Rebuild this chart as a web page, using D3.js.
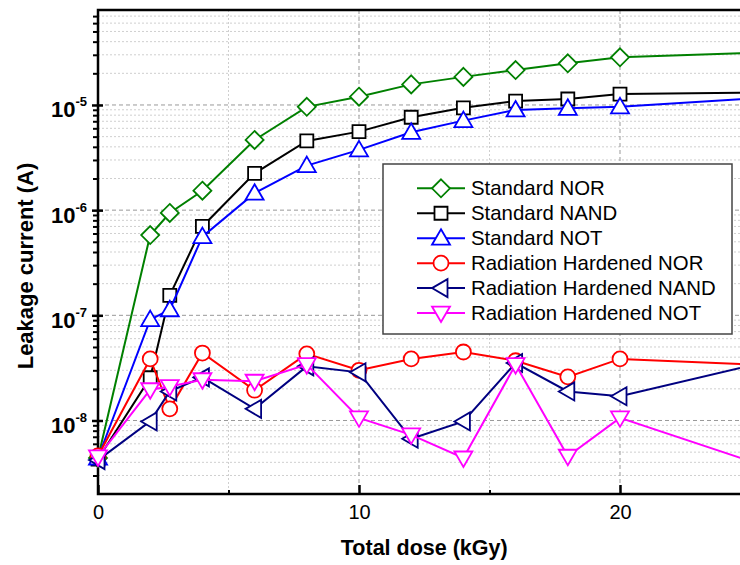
<!DOCTYPE html>
<html>
<head>
<meta charset="utf-8">
<script src="https://cdn.jsdelivr.net/npm/d3@7"></script>
<style>
  html, body { margin: 0; padding: 0; background: #fff; }
  svg { display: block; }
  text { font-family: Arial, "Liberation Sans", sans-serif; }
</style>
</head>
<body>
<svg id="chart" width="740" height="565"></svg>
<script>
// ---- Data ----
const doses = [0, 2, 2.75, 4, 6, 8, 10, 12, 14, 16, 18, 20, 25];
const stdNOR  = [4.4e-9, 5.8e-7, 9.4e-7, 1.53e-6, 4.65e-6, 9.6e-6, 1.2e-5, 1.57e-5, 1.85e-5, 2.15e-5, 2.49e-5, 2.84e-5, 3.12e-5];
const stdNAND = [4.3e-9, 2.55e-8, 1.55e-7, 7.0e-7, 2.24e-6, 4.55e-6, 5.58e-6, 7.64e-6, 9.4e-6, 1.09e-5, 1.14e-5, 1.27e-5, 1.31e-5];
const stdNOT  = [4.4e-9, 9.1e-8, 1.13e-7, 5.6e-7, 1.45e-6, 2.65e-6, 3.74e-6, 5.5e-6, 7.1e-6, 8.97e-6, 9.3e-6, 9.6e-6, 1.15e-5];
const rhNOR   = [4.6e-9, 3.85e-8, 1.29e-8, 4.38e-8, 1.94e-8, 4.3e-8, 3.0e-8, 3.85e-8, 4.48e-8, 3.7e-8, 2.6e-8, 3.85e-8, 3.42e-8];
const rhNAND  = [4.2e-9, 9.8e-9, 1.89e-8, 2.57e-8, 1.29e-8, 3.27e-8, 2.87e-8, 6.7e-9, 9.8e-9, 3.52e-8, 1.89e-8, 1.7e-8, 3.33e-8];
const rhNOT   = [4.5e-9, 1.96e-8, 2.1e-8, 2.44e-8, 2.36e-8, 3.4e-8, 1.06e-8, 7.3e-9, 4.4e-9, 3.4e-8, 4.57e-9, 1.06e-8, 4.1e-9];

const seriesNames = ["Standard NOR", "Standard NAND", "Standard NOT",
                     "Radiation Hardened NOR", "Radiation Hardened NAND", "Radiation Hardened NOT"];
const seriesValues = [stdNOR, stdNAND, stdNOT, rhNOR, rhNAND, rhNOT];
const seriesColors = ["#008000", "#000000", "#0000ff", "#ff0000", "#000080", "#ff00ff"];
const seriesSymbols = ["diamond", "square", "triUp", "circle", "triLeft", "triDown"];

const xMajorTicks = [0, 10, 20];
const xMinorTicks = [5, 15];
const yMajorTicks = [1e-8, 1e-7, 1e-6, 1e-5];
const yTickExponents = ["-8", "-7", "-6", "-5"];
const xTitle = "Total dose (kGy)";
const yTitle = "Leakage current (A)";

// ---- Layout ----
const L = 98, T = 10, R = 750.5, B = 494;
const svg = d3.select("#chart");

const x = d3.scaleLinear().domain([0, 25]).range([L, R]);
const y = d3.scaleLog().domain([2e-9, 8e-5]).range([B, T]);

// minor values for log axis
const yMinor = [];
for (let e = -9; e <= -5; e++) {
  for (let m = 2; m <= 9; m++) {
    const v = m * Math.pow(10, e);
    if (v > 2.0001e-9 && v < 8e-5) yMinor.push(v);
  }
}

// ---- Grid ----
const grid = svg.append("g");
grid.selectAll(".hmin").data(yMinor).enter().append("line")
  .attr("x1", L).attr("x2", R)
  .attr("y1", d => y(d)).attr("y2", d => y(d))
  .attr("stroke", "#cfcfcf").attr("stroke-width", 1).attr("stroke-dasharray", "2,2");
grid.selectAll(".vmin").data(xMinorTicks).enter().append("line")
  .attr("x1", d => x(d)).attr("x2", d => x(d))
  .attr("y1", T).attr("y2", B)
  .attr("stroke", "#cfcfcf").attr("stroke-width", 1).attr("stroke-dasharray", "2,2");
grid.selectAll(".hmaj").data(yMajorTicks).enter().append("line")
  .attr("x1", L).attr("x2", R)
  .attr("y1", d => y(d)).attr("y2", d => y(d))
  .attr("stroke", "#999").attr("stroke-width", 1).attr("stroke-dasharray", "4,3");
grid.selectAll(".vmaj").data(xMajorTicks.filter(d => d > 0)).enter().append("line")
  .attr("x1", d => x(d)).attr("x2", d => x(d))
  .attr("y1", T).attr("y2", B)
  .attr("stroke", "#999").attr("stroke-width", 1).attr("stroke-dasharray", "4,3");

// ---- Frame ----
svg.append("rect").attr("x", L).attr("y", T).attr("width", R - L).attr("height", B - T)
  .attr("fill", "none").attr("stroke", "#000").attr("stroke-width", 2.5);

// ---- Axes ----
const yMinAxis = svg.append("g").attr("transform", `translate(${L},0)`)
  .call(d3.axisLeft(y).tickValues(yMinor).tickSize(5).tickFormat(""));
yMinAxis.select(".domain").remove();
yMinAxis.selectAll("line").attr("stroke-width", 2);

const yMajAxis = svg.append("g").attr("transform", `translate(${L},0)`)
  .call(d3.axisLeft(y).tickValues(yMajorTicks).tickSize(6).tickPadding(5).tickFormat(""));
yMajAxis.select(".domain").remove();
yMajAxis.selectAll("line").attr("x1", 5).attr("x2", -6).attr("stroke-width", 2.5);
yMajAxis.selectAll("text").each(function(d, i) {
  const t = d3.select(this);
  t.attr("dy", 12).attr("font-size", 22).attr("font-weight", "bold").attr("fill", "#000")
   .attr("font-family", "Arial, 'Liberation Sans', sans-serif");
  t.text(null);
  t.append("tspan").text("10");
  t.append("tspan").attr("dy", -11).attr("font-size", 13).text(yTickExponents[i]);
});

const xMinAxis = svg.append("g").attr("transform", `translate(0,${B})`)
  .call(d3.axisBottom(x).tickValues(xMinorTicks).tickSize(-4).tickFormat(""));
xMinAxis.select(".domain").remove();
xMinAxis.selectAll("line").attr("stroke-width", 2);

const xMajAxis = svg.append("g").attr("transform", `translate(0,${B})`)
  .call(d3.axisBottom(x).tickValues(xMajorTicks).tickSize(-9).tickPadding(11).tickFormat(d3.format("d")));
xMajAxis.select(".domain").remove();
xMajAxis.selectAll("line").attr("stroke-width", 2.5);
xMajAxis.selectAll("text").attr("font-size", 20).attr("fill", "#000")
  .attr("font-family", "Arial, 'Liberation Sans', sans-serif");

// ---- Titles ----
svg.append("text").attr("x", (L + R) / 2).attr("y", 555)
  .attr("text-anchor", "middle").attr("font-size", 21.5).attr("font-weight", "bold")
  .text(xTitle);
svg.append("text").attr("transform", "translate(33,266) rotate(-90)")
  .attr("text-anchor", "middle").attr("font-size", 22).attr("font-weight", "bold")
  .text(yTitle);

// ---- Symbols ----
function symbolPath(kind) {
  switch (kind) {
    case "diamond": return "M0,-9L9,0L0,9L-9,0Z";
    case "square": return "M-6.5,-6.5H6.5V6.5H-6.5Z";
    case "triUp": return "M0,-9L9,6.5L-9,6.5Z";
    case "triDown": return "M0,9L9,-6.5L-9,-6.5Z";
    case "triLeft": return "M-9,0L6.5,-9L6.5,9Z";
    case "circle": return "M7.5,0A7.5,7.5 0 1,1 -7.5,0A7.5,7.5 0 1,1 7.5,0Z";
  }
}

const line = d3.line().x(d => x(d[0])).y(d => y(d[1]));

seriesValues.forEach((vals, si) => {
  const pts = doses.map((d, i) => [d, vals[i]]);
  const g = svg.append("g");
  g.append("path").datum(pts).attr("d", line)
    .attr("fill", "none").attr("stroke", seriesColors[si]).attr("stroke-width", 2);
  g.selectAll("path.m").data(pts).enter().append("path").attr("class", "m")
    .attr("transform", d => `translate(${x(d[0])},${y(d[1])})`)
    .attr("d", symbolPath(seriesSymbols[si]))
    .attr("fill", "#fff").attr("stroke", seriesColors[si]).attr("stroke-width", 1.8);
});

// ---- Legend ----
const lg = svg.append("g");
lg.append("rect").attr("x", 383).attr("y", 164).attr("width", 349).attr("height", 170)
  .attr("fill", "#fff").attr("stroke", "#444").attr("stroke-width", 1.5);
seriesNames.forEach((name, i) => {
  const cy = 188.3 + i * 24.95;
  lg.append("line").attr("x1", 417).attr("x2", 465).attr("y1", cy).attr("y2", cy)
    .attr("stroke", seriesColors[i]).attr("stroke-width", 2);
  lg.append("path").attr("transform", `translate(441,${cy})`)
    .attr("d", symbolPath(seriesSymbols[i]))
    .attr("fill", "#fff").attr("stroke", seriesColors[i]).attr("stroke-width", 1.8);
  lg.append("text").attr("x", 471).attr("y", cy + 7).attr("font-size", 20.4).attr("fill", "#000")
    .text(name);
});
</script>
</body>
</html>
